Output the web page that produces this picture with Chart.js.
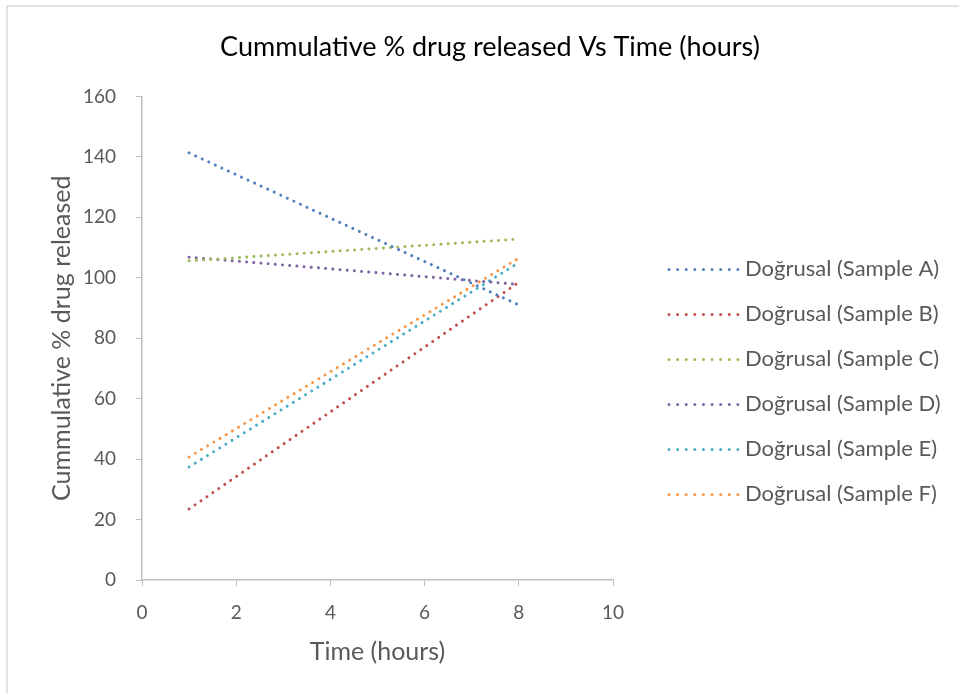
<!DOCTYPE html>
<html>
<head>
<meta charset="utf-8">
<script src="https://cdn.jsdelivr.net/npm/chart.js@4/dist/chart.umd.min.js"></script>
<style>
  html, body { margin: 0; padding: 0; background: #fff; }
  #wrap { position: relative; width: 959px; height: 693px; }
</style>
</head>
<body>
<div id="wrap"><canvas id="chart" width="959" height="693"></canvas></div>
<script>
/* ── Дані ── */
var timeHours = [1, 8];
var sampleNames = ['Doğrusal (Sample A)', 'Doğrusal (Sample B)', 'Doğrusal (Sample C)',
                   'Doğrusal (Sample D)', 'Doğrusal (Sample E)', 'Doğrusal (Sample F)'];
var sampleA = [141.3, 91];
var sampleB = [23.5, 98.5];
var sampleC = [105.6, 112.8];
var sampleD = [106.8, 97.8];
var sampleE = [37.4, 105];
var sampleF = [40.7, 106.5];
var xTicks = [0, 2, 4, 6, 8, 10];
var yTicks = [0, 20, 40, 60, 80, 100, 120, 140, 160];

var colors = ['#4f81bd', '#c0504d', '#9bbb59', '#8064a2', '#4bacc6', '#f79646'];
var series = [sampleA, sampleB, sampleC, sampleD, sampleE, sampleF];

var FONT = 'Lato, "Open Sans", sans-serif';
var GREY = '#595959';
var AXIS = '#bfbfbf';

function toPoints( vals ) {
    return vals.map( function ( v, i ) { return { x: timeHours[i], y: v }; } );
}

var datasets = series.map( function ( vals, i ) {
    return {
        label:           sampleNames[i],
        data:            toPoints( vals ),
        borderColor:     colors[i],
        backgroundColor: colors[i],
        borderWidth:     3,
        borderCapStyle:  'round',
        borderDash:      [0.01, 7.2],
        pointRadius:     0,
        fill:            false,
        tension:         0,
    };
} );

/* рамка навколо діаграми */
var frame = {
    id: 'frame',
    beforeDraw: function ( chart ) {
        var c = chart.ctx;
        c.save();
        c.fillStyle = '#fff';
        c.fillRect( 0, 0, chart.width, chart.height );
        c.strokeStyle = '#d9d9d9';
        c.lineWidth = 1.5;
        c.strokeRect( 7, 6, chart.width + 10, chart.height + 10 );
        c.restore();
    },
};

/* легенда праворуч — пунктирні зразки ліній */
var sideLegend = {
    id: 'sideLegend',
    afterDraw: function ( chart ) {
        var c = chart.ctx;
        var area = chart.chartArea;
        var x0 = area.right + 55;
        var y0 = area.top + 173;
        c.save();
        chart.data.datasets.forEach( function ( ds, i ) {
            var y = y0 + i * 45;
            c.strokeStyle = ds.borderColor;
            c.lineWidth = 3;
            c.lineCap = 'round';
            c.setLineDash( [0.01, 8.6] );
            c.beginPath();
            c.moveTo( x0 + 1, y );
            c.lineTo( x0 + 70, y );
            c.stroke();
            c.setLineDash( [] );
            c.fillStyle = GREY;
            c.font = '22px ' + FONT;
            c.textBaseline = 'middle';
            c.textAlign = 'left';
            c.fillText( ds.label, x0 + 77, y );
        } );
        c.restore();
    },
};

new Chart( document.getElementById( 'chart' ), {
    type: 'line',
    data: { datasets: datasets },
    plugins: [ frame, sideLegend ],
    options: {
        responsive: false,
        animation:  false,
        layout: { padding: { left: 21, right: 0, top: 20, bottom: 0 } },
        plugins: {
            title: {
                display: true,
                text:    'Cummulative % drug released Vs Time (hours)',
                color:   '#000',
                font:    { family: FONT, size: 27, weight: 'normal' },
                padding: { top: 11, bottom: 33 },
            },
            legend:  { display: false },
            tooltip: { enabled: false },
        },
        scales: {
            x: {
                type: 'linear',
                min: 0, max: 10,
                afterBuildTicks: function ( s ) { s.ticks = xTicks.map( function ( v ) { return { value: v }; } ); },
                afterFit: function ( s ) { s.height = 113; },
                border: { color: AXIS, width: 1.5 },
                grid:   { drawOnChartArea: false, drawTicks: true, tickLength: 6, color: AXIS },
                ticks:  { color: GREY, font: { family: FONT, size: 19 }, padding: 15 },
                title:  { display: true, text: 'Time (hours)', color: GREY, font: { family: FONT, size: 25 }, padding: { top: 0, bottom: 26 } },
            },
            y: {
                type: 'linear',
                min: 0, max: 160,
                afterBuildTicks: function ( s ) { s.ticks = yTicks.map( function ( v ) { return { value: v }; } ); },
                afterFit: function ( s ) { s.width = 121; },
                border: { color: AXIS, width: 1.5 },
                grid:   { drawOnChartArea: false, drawTicks: true, tickLength: 6, color: AXIS },
                ticks:  { color: GREY, font: { family: FONT, size: 19 }, padding: 20 },
                title:  { display: true, text: 'Cummulative % drug released', color: GREY, font: { family: FONT, size: 25 }, padding: { top: 26, bottom: 0 } },
            },
            /* порожня вісь праворуч — місце під легенду */
            yLegend: {
                type: 'linear',
                position: 'right',
                display: true,
                afterFit: function ( s ) { s.width = 346; },
                border: { display: false },
                grid:   { display: false },
                ticks:  { display: false },
            },
        },
    },
} );
</script>
</body>
</html>
